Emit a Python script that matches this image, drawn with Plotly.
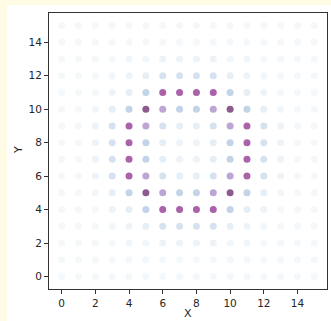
import plotly.graph_objects as go

xs = list(range(16))
ys = list(range(16))

# intensity levels per grid row (y = 0 .. 15), columns x = 0 .. 15
row_15 = [0, 0, 0, 0, 0, 0, 0, 0, 0, 0, 0, 0, 0, 0, 0, 0]
row_14 = [0, 0, 0, 0, 0, 0, 0, 0, 0, 0, 0, 0, 0, 0, 0, 0]
row_13 = [0, 0, 0, 0, 0.05, 0.05, 0.1, 0.1, 0.1, 0.1, 0.05, 0.05, 0, 0, 0, 0]
row_12 = [0, 0, 0, 0.05, 0.1, 0.2, 0.35, 0.35, 0.35, 0.35, 0.2, 0.1, 0.05, 0, 0, 0]
row_11 = [0, 0, 0, 0.1, 0.2, 0.5, 0.85, 0.85, 0.85, 0.85, 0.5, 0.2, 0.1, 0, 0, 0]
row_10 = [0, 0, 0.05, 0.2, 0.5, 1.0, 0.65, 0.5, 0.5, 0.65, 1.0, 0.5, 0.2, 0.05, 0, 0]
row_9 = [0, 0, 0.1, 0.35, 0.85, 0.65, 0.35, 0.2, 0.2, 0.35, 0.65, 0.85, 0.35, 0.1, 0, 0]
row_8 = [0, 0, 0.1, 0.35, 0.85, 0.5, 0.2, 0.1, 0.1, 0.2, 0.5, 0.85, 0.35, 0.1, 0, 0]
row_7 = row_8
row_6 = row_9
row_5 = row_10
row_4 = row_11
row_3 = row_12
row_2 = row_13
row_1 = row_14
row_0 = row_15
values = [row_0, row_1, row_2, row_3, row_4, row_5, row_6, row_7,
          row_8, row_9, row_10, row_11, row_12, row_13, row_14, row_15]

tick_vals = [0, 2, 4, 6, 8, 10, 12, 14]
x_title = "X"
y_title = "Y"

px, py, pv = [], [], []
for j, y in enumerate(ys):
    for i, x in enumerate(xs):
        px.append(x)
        py.append(y)
        pv.append(values[j][i])

colorscale = [
    [0.0, "#f4f8fb"],
    [0.1, "#eef3f8"],
    [0.2, "#e6eef6"],
    [0.35, "#d6e2f0"],
    [0.5, "#c3d4e9"],
    [0.65, "#bda5d4"],
    [0.85, "#aa62aa"],
    [1.0, "#8d5a8d"],
]

fig = go.Figure(go.Scatter(
    x=px, y=py, mode="markers",
    marker=dict(size=7, color=pv, colorscale=colorscale, cmin=0, cmax=1,
                showscale=False, line=dict(width=0)),
    hoverinfo="skip",
))

L, R, T, B = 49, 4, 13, 32
W, H = 331, 321
pw, ph = W - L - R, H - T - B
yellow = "#fffbe5"
fig.add_shape(type="rect", xref="paper", yref="paper",
              x0=-L / pw, x1=(7 - L) / pw, y0=-B / ph, y1=(H - B) / ph,
              fillcolor=yellow, line=dict(width=0), layer="below")
fig.add_shape(type="rect", xref="paper", yref="paper",
              x0=-L / pw, x1=(W - L) / pw, y0=(H - B - 5) / ph, y1=(H - B) / ph,
              fillcolor=yellow, line=dict(width=0), layer="below")

title_font = dict(family="DejaVu Sans", size=11, color="#262626")
fig.add_annotation(text=x_title, xref="paper", yref="paper",
                   x=(188 - L) / pw, y=(H - B - 313) / ph,
                   showarrow=False, font=title_font,
                   xanchor="center", yanchor="middle")
fig.add_annotation(text=y_title, xref="paper", yref="paper",
                   x=(18 - L) / pw, y=(H - B - 150) / ph, textangle=-90,
                   showarrow=False, font=title_font,
                   xanchor="center", yanchor="middle")

axis_common = dict(
    range=[-0.75, 15.75], tickvals=tick_vals, ticks="outside", ticklen=4,
    tickwidth=1, tickcolor="#333333", showgrid=False, zeroline=False,
    showline=True, linecolor="#333333", linewidth=1, mirror=True,
    automargin=False,
    tickfont=dict(family="DejaVu Sans", size=10.5, color="#262626"),
)
fig.update_layout(
    width=W, height=H,
    margin=dict(l=L, r=R, t=T, b=B, autoexpand=False),
    paper_bgcolor="white", plot_bgcolor="white",
    showlegend=False,
    xaxis=dict(**axis_common),
    yaxis=dict(**axis_common),
)
fig.write_html("out.html", config={"displayModeBar": False})

with open("out.html", "r", encoding="utf-8") as f:
    html = f.read()
html = html.replace(
    "<head>",
    "<head><style>html,body{margin:0;padding:0;overflow:hidden;background:#ffffff;}</style>",
    1,
)
with open("out.html", "w", encoding="utf-8") as f:
    f.write(html)
